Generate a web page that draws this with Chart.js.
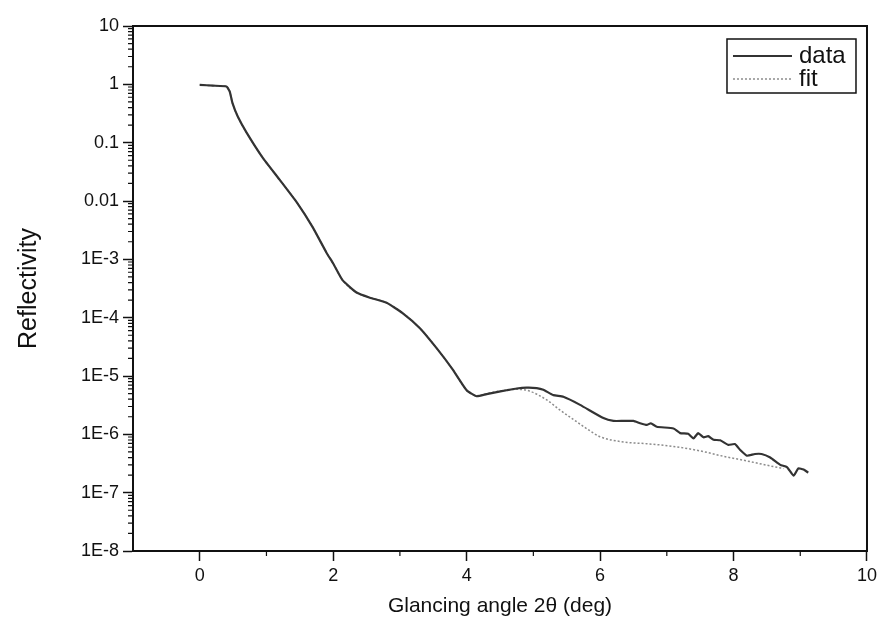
<!DOCTYPE html>
<html>
<head>
<meta charset="utf-8">
<script src="https://cdn.jsdelivr.net/npm/chart.js@4.4.0/dist/chart.umd.min.js"></script>
<style>
  html, body { margin: 0; padding: 0; background: #fff; }
  #wrap { width: 881px; height: 631px; }
</style>
</head>
<body>
<div id="wrap"><canvas id="chart" width="881" height="631"></canvas></div>
<script>
// values
var dataX = [0, 0.2, 0.4, 0.45, 0.49, 0.57, 0.70, 0.94, 1.20, 1.46, 1.69, 1.90, 2.0, 2.14, 2.35, 2.55, 2.80, 3.04, 3.30, 3.55, 3.79, 4.0, 4.15, 4.30, 4.45, 4.60, 4.75, 4.90, 5.05, 5.15, 5.30, 5.45, 5.70, 6.05, 6.20, 6.35, 6.50, 6.60, 6.70, 6.76, 6.85, 7.10, 7.20, 7.32, 7.40, 7.47, 7.55, 7.62, 7.70, 7.80, 7.92, 8.02, 8.10, 8.20, 8.32, 8.42, 8.55, 8.70, 8.80, 8.90, 8.97, 9.05, 9.12];
var dataY = [0.98, 0.95, 0.92, 0.75, 0.48, 0.28, 0.15, 0.056, 0.023, 9.3e-3, 3.6e-3, 1.3e-3, 8.5e-4, 4.4e-4, 2.7e-4, 2.2e-4, 1.8e-4, 1.2e-4, 6.6e-5, 3.0e-5, 1.3e-5, 5.7e-6, 4.5e-6, 4.9e-6, 5.3e-6, 5.7e-6, 6.1e-6, 6.3e-6, 6.2e-6, 5.8e-6, 4.7e-6, 4.4e-6, 3.2e-6, 1.9e-6, 1.7e-6, 1.7e-6, 1.7e-6, 1.55e-6, 1.45e-6, 1.55e-6, 1.35e-6, 1.26e-6, 1.05e-6, 1.02e-6, 8.5e-7, 1.05e-6, 8.9e-7, 9.3e-7, 8.1e-7, 7.9e-7, 6.6e-7, 6.8e-7, 5.4e-7, 4.3e-7, 4.6e-7, 4.6e-7, 4.0e-7, 3.0e-7, 2.75e-7, 1.95e-7, 2.6e-7, 2.5e-7, 2.2e-7];

var fitX = [0, 0.2, 0.4, 0.45, 0.49, 0.57, 0.70, 0.94, 1.20, 1.46, 1.69, 1.90, 2.0, 2.14, 2.35, 2.55, 2.80, 3.04, 3.30, 3.55, 3.79, 4.0, 4.15, 4.30, 4.45, 4.60, 4.75, 4.90, 5.20, 5.40, 5.60, 5.80, 6.00, 6.35, 6.70, 7.10, 7.50, 7.85, 8.20, 8.60, 8.75];
var fitY = [0.98, 0.95, 0.92, 0.75, 0.48, 0.28, 0.15, 0.056, 0.023, 9.3e-3, 3.6e-3, 1.3e-3, 8.5e-4, 4.4e-4, 2.7e-4, 2.2e-4, 1.8e-4, 1.2e-4, 6.6e-5, 3.0e-5, 1.3e-5, 5.7e-6, 4.6e-6, 5.0e-6, 5.4e-6, 5.7e-6, 5.9e-6, 5.7e-6, 3.9e-6, 2.6e-6, 1.8e-6, 1.25e-6, 9.1e-7, 7.4e-7, 6.9e-7, 6.2e-7, 5.2e-7, 4.2e-7, 3.5e-7, 2.8e-7, 2.6e-7];

var xTicks = [0, 2, 4, 6, 8, 10];
var xMinor = [1, 3, 5, 7, 9];
var yTicks = [10, 1, 0.1, 0.01, 1e-3, 1e-4, 1e-5, 1e-6, 1e-7, 1e-8];
var yLabels = ["10", "1", "0.1", "0.01", "1E-3", "1E-4", "1E-5", "1E-6", "1E-7", "1E-8"];

function pts(xs, ys) {
  return xs.map(function (x, i) { return { x: x, y: ys[i] }; });
}

var FONT = "'Liberation Sans', Arial, sans-serif";

// box around the plot + minor ticks
var framePlugin = {
  id: 'frame',
  afterDraw: function (chart) {
    var c = chart.ctx, a = chart.chartArea;
    var xs = chart.scales.x, ys = chart.scales.y;
    c.save();
    c.strokeStyle = '#111';
    c.lineWidth = 2;
    c.strokeRect(a.left, a.top, a.right - a.left, a.bottom - a.top);
    c.lineWidth = 1.2;
    c.beginPath();
    xMinor.forEach(function (v) {
      var px = xs.getPixelForValue(v);
      c.moveTo(px, a.bottom);
      c.lineTo(px, a.bottom + 5);
    });
    for (var n = -8; n < 1; n++) {
      for (var k = 2; k <= 9; k++) {
        var py = ys.getPixelForValue(k * Math.pow(10, n));
        c.moveTo(a.left - 5, py);
        c.lineTo(a.left, py);
      }
    }
    c.stroke();
    c.restore();
  }
};

// legend box inside the plot, top right
var legendPlugin = {
  id: 'boxLegend',
  afterDraw: function (chart) {
    var c = chart.ctx, a = chart.chartArea;
    var right = a.right - 11, left = right - 129, top = a.top + 13, bottom = top + 54;
    c.save();
    c.strokeStyle = '#111';
    c.lineWidth = 1.5;
    c.strokeRect(left, top, right - left, bottom - top);
    c.font = '24px ' + FONT;
    c.fillStyle = '#111';
    c.textBaseline = 'middle';
    chart.data.datasets.forEach(function (ds, i) {
      var y = top + 17 + i * 23;
      c.strokeStyle = ds.borderColor;
      c.lineWidth = ds.borderWidth;
      c.setLineDash(ds.borderDash || []);
      c.beginPath();
      c.moveTo(left + 6, y);
      c.lineTo(left + 65, y);
      c.stroke();
      c.setLineDash([]);
      c.fillText(ds.label, left + 72, y);
    });
    c.restore();
  }
};

new Chart(document.getElementById('chart'), {
  type: 'line',
  data: {
    datasets: [{
      label: 'data',
      data: pts(dataX, dataY),
      borderColor: '#333',
      borderWidth: 2.2,
      pointRadius: 0,
      tension: 0.15
    }, {
      label: 'fit',
      data: pts(fitX, fitY),
      borderColor: '#8c8c8c',
      borderWidth: 1.5,
      borderDash: [2, 2],
      pointRadius: 0,
      cubicInterpolationMode: 'monotone'
    }]
  },
  options: {
    responsive: false,
    animation: false,
    layout: { padding: { top: 26, right: 14, left: 0, bottom: 0 } },
    plugins: { legend: { display: false }, tooltip: { enabled: false } },
    scales: {
      x: {
        type: 'linear',
        min: -1,
        max: 10,
        afterBuildTicks: function (s) { s.ticks = xTicks.map(function (v) { return { value: v }; }); },
        afterFit: function (s) { s.height = 80; },
        grid: { drawOnChartArea: false, tickLength: 10, tickColor: '#111', tickWidth: 1.5 },
        border: { color: '#111', width: 2 },
        ticks: { color: '#111', padding: 4, font: { family: FONT, size: 18 } },
        title: { display: true, text: 'Glancing angle 2θ (deg)', color: '#111', font: { family: FONT, size: 21 }, padding: { top: 0, bottom: 12 } }
      },
      y: {
        type: 'logarithmic',
        min: 1e-8,
        max: 10,
        afterBuildTicks: function (s) { s.ticks = yTicks.map(function (v) { return { value: v }; }); },
        afterFit: function (s) { s.width = 133; },
        grid: { drawOnChartArea: false, tickLength: 10, tickColor: '#111', tickWidth: 1.5 },
        border: { color: '#111', width: 2 },
        ticks: {
          color: '#111', padding: 4, font: { family: FONT, size: 18 },
          callback: function (v) { var i = yTicks.indexOf(v); return i >= 0 ? yLabels[i] : ''; }
        },
        title: { display: true, text: 'Reflectivity', color: '#111', font: { family: FONT, size: 25 }, padding: { top: 14, bottom: 0 } }
      }
    }
  },
  plugins: [framePlugin, legendPlugin]
});
</script>
</body>
</html>
